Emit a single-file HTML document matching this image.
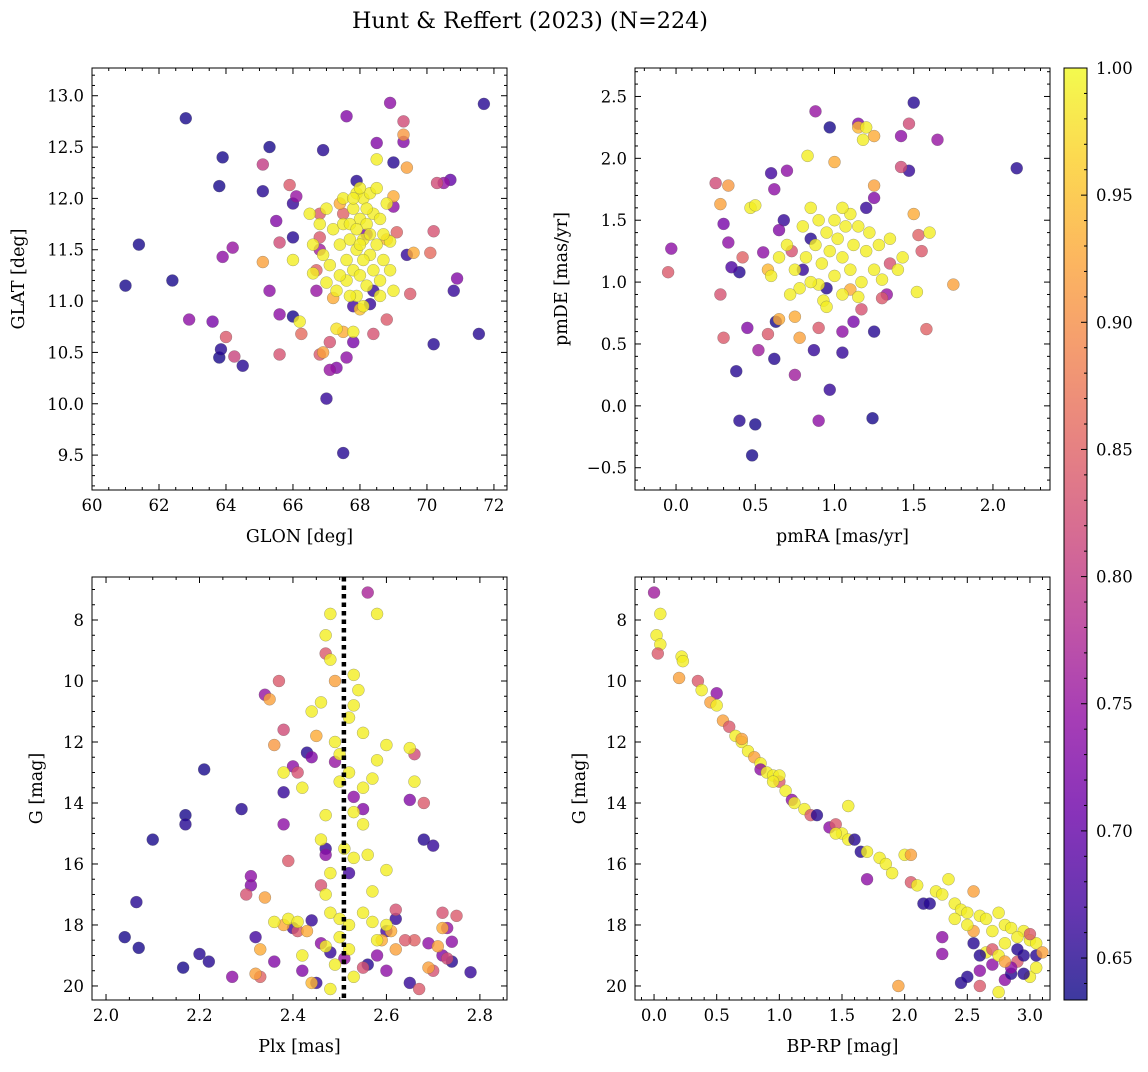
<!DOCTYPE html>
<html><head><meta charset="utf-8"><style>
body{margin:0;background:#fff;}
svg text{font-family:"DejaVu Serif","Liberation Serif",serif;fill:#000;}
</style></head><body>
<svg id="fig" width="1148" height="1067">
<text x="530" y="28" font-size="22" text-anchor="middle" textLength="356" lengthAdjust="spacingAndGlyphs">Hunt &amp; Reffert (2023) (N=224)</text>
</svg>
<script>
// ---- data: [x, y, membership probability] ----
const posData = [
[61.0,11.15,0.64],[61.4,11.55,0.64],[62.4,11.2,0.64],[62.8,12.78,0.64],[63.8,12.12,0.64],[63.9,12.4,0.64],[63.8,10.45,0.64],[63.85,10.53,0.65],[64.5,10.37,0.65],[65.3,12.5,0.64],[65.1,12.07,0.65],[66.0,11.62,0.65],[66.0,10.85,0.64],[66.0,11.95,0.66],[66.9,12.47,0.65],[67.0,10.05,0.66],[67.5,9.52,0.65],[67.9,12.17,0.65],[69.0,12.35,0.65],[70.2,10.58,0.65],[70.8,11.1,0.66],[71.7,12.92,0.65],[71.55,10.68,0.65],[70.7,12.18,0.7],[69.4,11.45,0.66],[68.3,10.97,0.66],[67.8,10.95,0.67],[68.4,11.1,0.66],
[62.9,10.82,0.74],[63.6,10.8,0.72],[64.2,11.52,0.75],[63.9,11.43,0.74],[65.5,11.78,0.73],[66.1,12.02,0.75],[67.6,12.8,0.73],[68.9,12.93,0.74],[69.3,12.55,0.73],[69.0,11.92,0.74],[67.3,10.35,0.73],[67.8,10.6,0.72],[67.6,10.45,0.74],[66.7,11.1,0.75],[65.6,10.87,0.74],[70.9,11.22,0.73],[70.5,12.15,0.75],[68.5,12.54,0.73],[65.3,11.1,0.74],[67.1,10.33,0.75],[68.2,11.65,0.72],[66.8,11.5,0.76],
[65.1,12.33,0.8],[64.25,10.46,0.81],[64.0,10.65,0.84],[65.6,11.57,0.82],[65.6,10.48,0.83],[65.9,12.13,0.84],[66.25,10.68,0.86],[66.8,10.48,0.84],[67.1,10.6,0.83],[66.7,11.3,0.85],[66.8,11.62,0.84],[69.3,12.75,0.82],[69.5,11.07,0.84],[70.2,11.68,0.83],[70.3,12.15,0.82],[70.1,11.47,0.86],[69.1,11.67,0.85],[68.8,10.82,0.84],[68.4,10.68,0.83],[67.5,11.85,0.85],[66.8,11.85,0.84],
[65.1,11.38,0.92],[69.3,12.62,0.91],[69.4,12.3,0.92],[69.6,11.47,0.93],[69.0,12.02,0.93],[68.8,11.6,0.94],[67.5,10.7,0.93],[66.9,10.5,0.92],[67.2,11.03,0.93],[68.0,10.92,0.95],[67.4,11.95,0.93],
[66.0,11.4,0.99],[66.2,10.8,0.99],[67.3,10.73,0.98],[66.6,11.27,0.99],[67.0,11.18,0.99],[68.5,12.38,0.99],[68.9,11.58,0.99],[66.5,11.85,0.99],[66.8,11.75,0.99],[67.0,11.9,0.99],[67.2,11.7,0.99],[67.4,11.55,0.99],[67.6,11.4,0.99],[67.8,11.9,0.99],[67.9,12.05,0.99],[68.1,12.0,0.99],[68.3,12.05,0.99],[68.0,11.8,0.99],[68.2,11.75,0.99],[68.4,11.85,0.99],[68.6,11.8,0.99],[68.8,11.95,0.99],[67.5,11.75,0.99],[67.7,11.6,0.99],[67.9,11.5,0.99],[68.1,11.6,0.99],[68.3,11.45,0.99],[68.5,11.55,0.99],[68.7,11.4,0.99],[67.6,11.2,0.99],[67.8,11.3,0.99],[68.0,11.25,0.99],[68.2,11.15,0.99],[68.4,11.3,0.99],[68.6,11.2,0.99],[67.1,11.35,0.99],[66.9,11.45,0.99],[67.3,11.1,0.99],[67.9,11.05,0.99],[68.1,10.95,0.99],[68.6,11.05,0.99],[68.9,11.3,0.99],[69.0,11.1,0.99],[68.7,11.65,0.99],[67.5,12.0,0.99],[68.5,12.1,0.99],[66.6,11.55,0.99],[67.8,10.7,0.99],
[67.7,11.75,0.99],[67.9,11.7,0.99],[68.1,11.4,0.99],[68.3,11.65,0.99],[67.7,11.05,0.99],[68.0,11.55,0.99],[67.4,11.25,0.99],[68.2,11.9,0.99],[67.8,12.0,0.99],[68.0,12.1,0.99]
];
const pmData = [
[0.48,-0.4,0.64],[0.4,-0.12,0.65],[0.5,-0.15,0.64],[0.97,0.13,0.66],[1.24,-0.1,0.64],[0.38,0.28,0.65],[0.62,0.38,0.65],[0.63,0.68,0.64],[0.4,1.08,0.65],[0.97,2.25,0.64],[1.5,2.45,0.65],[1.25,0.6,0.65],[1.05,0.43,0.66],[2.15,1.92,0.65],[0.87,0.45,0.66],[0.85,1.35,0.65],[0.8,1.1,0.66],[0.95,0.95,0.65],[1.2,1.6,0.66],[1.47,1.9,0.66],[0.6,1.88,0.67],[0.68,1.5,0.66],[0.35,1.12,0.68],
[-0.03,1.27,0.74],[0.3,1.47,0.72],[0.45,0.63,0.73],[0.62,1.75,0.74],[0.65,1.42,0.73],[0.9,-0.12,0.74],[0.88,2.38,0.75],[1.15,2.28,0.73],[1.42,2.18,0.74],[1.65,2.15,0.75],[1.05,0.6,0.74],[1.12,0.68,0.72],[1.33,0.9,0.75],[0.55,1.24,0.74],[0.75,0.25,0.76],[0.33,1.32,0.74],[1.25,1.68,0.73],[0.52,0.45,0.76],[0.7,1.9,0.74],
[-0.05,1.08,0.84],[0.25,1.8,0.82],[0.28,0.9,0.83],[0.3,0.55,0.84],[0.42,1.2,0.85],[0.58,0.58,0.84],[0.73,1.25,0.83],[0.9,0.63,0.84],[1.17,0.78,0.83],[1.42,1.93,0.82],[1.58,0.62,0.85],[1.47,2.28,0.82],[1.53,1.38,0.85],[1.3,0.87,0.84],[1.35,1.15,0.83],[1.55,1.25,0.84],
[0.28,1.63,0.92],[0.33,1.78,0.91],[0.65,0.7,0.93],[0.78,0.55,0.92],[1.0,1.97,0.93],[1.25,1.78,0.92],[1.25,2.18,0.93],[1.75,0.98,0.92],[1.5,1.55,0.93],[1.15,2.25,0.94],[0.75,0.72,0.93],[1.1,0.94,0.93],[0.58,1.1,0.94],
[0.83,2.02,0.99],[0.47,1.6,0.99],[0.5,1.62,0.99],[1.52,0.92,0.99],[1.6,1.4,0.99],[1.43,1.2,0.99],[0.9,0.98,0.99],[1.2,2.25,0.99],[1.18,2.15,0.99],[0.7,1.3,0.99],[0.75,1.1,0.99],[0.8,1.45,0.99],[0.82,1.2,0.99],[0.85,1.0,0.99],[0.88,1.3,0.99],[0.9,1.5,0.99],[0.92,1.15,0.99],[0.95,1.4,0.99],[0.97,1.25,0.99],[1.0,1.05,0.99],[1.0,1.5,0.99],[1.02,1.35,0.99],[1.05,1.2,0.99],[1.07,1.45,0.99],[1.1,1.55,0.99],[1.1,1.1,0.99],[1.12,1.3,0.99],[1.15,1.45,0.99],[1.17,1.0,0.99],[1.2,1.25,0.99],[1.22,1.4,0.99],[1.25,1.1,0.99],[1.28,1.3,0.99],[0.78,0.95,0.99],[0.93,0.85,0.99],[1.05,0.9,0.99],[0.65,1.2,0.99],[0.6,1.05,0.99],[1.35,1.35,0.99],[1.3,1.02,0.99],[0.85,1.6,0.99],[1.05,1.6,0.99],[0.95,0.8,0.99],[1.15,0.88,0.99],[0.72,0.9,0.99],[1.4,1.1,0.99]
];
const plxData = [
[2.04,18.4,0.64],[2.07,18.75,0.64],[2.065,17.25,0.65],[2.1,15.2,0.64],[2.17,14.4,0.64],[2.17,14.7,0.65],[2.165,19.4,0.64],[2.2,18.95,0.65],[2.21,12.9,0.64],[2.22,19.2,0.65],[2.29,14.2,0.65],[2.38,13.65,0.66],[2.43,12.35,0.65],[2.44,17.85,0.66],[2.47,15.5,0.66],[2.56,19.3,0.65],[2.65,19.9,0.66],[2.68,15.2,0.65],[2.7,15.4,0.66],[2.74,19.2,0.65],[2.78,19.55,0.66],[2.62,17.8,0.66],[2.6,18.2,0.67],[2.45,19.9,0.66],[2.48,18.9,0.66],[2.4,18.1,0.67],[2.32,18.4,0.67],[2.52,16.3,0.67],
[2.27,19.7,0.74],[2.31,16.7,0.73],[2.31,16.4,0.74],[2.34,10.45,0.75],[2.36,19.2,0.73],[2.38,14.7,0.74],[2.4,12.8,0.74],[2.44,12.5,0.73],[2.49,12.65,0.75],[2.53,13.8,0.74],[2.65,13.9,0.73],[2.69,18.6,0.74],[2.72,19.0,0.73],[2.73,18.1,0.75],[2.74,18.55,0.74],[2.42,19.5,0.73],[2.46,18.6,0.74],[2.51,19.1,0.75],[2.58,19.0,0.74],[2.56,7.1,0.77],[2.47,15.7,0.74],[2.55,14.2,0.73],[2.6,19.5,0.74],
[2.3,17.0,0.83],[2.38,11.6,0.82],[2.37,10.0,0.84],[2.41,13.0,0.83],[2.39,15.9,0.84],[2.46,16.7,0.83],[2.47,9.1,0.84],[2.62,17.5,0.83],[2.66,12.4,0.82],[2.68,14.0,0.84],[2.72,17.6,0.83],[2.75,17.7,0.84],[2.7,19.5,0.83],[2.67,20.1,0.84],[2.66,18.5,0.85],[2.64,18.5,0.84],[2.73,19.1,0.82],[2.55,19.4,0.83],[2.41,18.2,0.84],[2.33,19.7,0.85],
[2.35,10.6,0.92],[2.36,12.1,0.91],[2.34,17.1,0.92],[2.33,18.8,0.93],[2.32,19.6,0.92],[2.45,11.8,0.93],[2.49,10.0,0.92],[2.59,18.5,0.93],[2.62,18.8,0.92],[2.72,18.1,0.93],[2.69,19.4,0.92],[2.61,18.2,0.93],[2.44,19.9,0.94],[2.43,18.2,0.93],[2.71,18.7,0.92],[2.38,18.0,0.93],
[2.48,7.8,0.99],[2.47,8.5,0.99],[2.58,7.8,0.99],[2.48,9.3,0.99],[2.53,9.8,0.99],[2.54,10.3,0.99],[2.53,10.8,0.99],[2.46,10.7,0.99],[2.52,11.2,0.99],[2.55,11.7,0.99],[2.6,12.1,0.99],[2.65,12.2,0.99],[2.66,13.3,0.99],[2.58,12.6,0.99],[2.49,12.0,0.99],[2.5,12.4,0.99],[2.44,11.0,0.99],[2.38,13.0,0.99],[2.42,13.5,0.99],[2.5,13.3,0.99],[2.52,13.0,0.99],[2.55,13.5,0.99],[2.57,13.2,0.99],[2.47,14.4,0.99],[2.53,14.3,0.99],[2.55,14.7,0.99],[2.46,15.2,0.99],[2.51,15.5,0.99],[2.53,15.8,0.99],[2.56,15.7,0.99],[2.6,16.2,0.99],[2.57,16.9,0.99],[2.48,16.3,0.99],[2.47,17.0,0.99],[2.39,17.8,0.99],[2.41,17.9,0.99],[2.48,17.6,0.99],[2.5,17.8,0.99],[2.52,18.0,0.99],[2.55,17.6,0.99],[2.57,17.9,0.99],[2.6,18.0,0.99],[2.5,18.4,0.99],[2.47,18.7,0.99],[2.52,18.8,0.99],[2.49,19.3,0.99],[2.48,20.1,0.99],[2.58,18.5,0.99],[2.53,19.7,0.99],[2.36,17.9,0.99],[2.42,19.0,0.99]
];
const cmdData = [
[0.0,7.1,0.76],[0.02,8.5,0.99],[0.05,8.8,0.99],[0.05,7.8,0.99],[0.03,9.1,0.84],[0.2,9.9,0.92],[0.22,9.2,0.99],[0.23,9.35,0.99],[0.35,10.0,0.84],[0.38,10.3,0.99],[0.5,10.4,0.74],[0.45,10.7,0.92],[0.5,10.8,0.99],[0.55,11.3,0.92],[0.6,11.5,0.84],[0.65,11.8,0.99],[0.7,12.0,0.99],[0.75,12.3,0.99],[0.8,12.5,0.92],[0.85,12.7,0.99],[0.85,12.9,0.74],[0.9,13.0,0.99],[0.95,13.1,0.99],[1.0,13.3,0.84],[1.0,13.1,0.99],[1.05,13.6,0.99],[1.1,13.9,0.74],[1.12,14.0,0.99],[1.2,14.2,0.99],[1.25,14.4,0.84],[1.3,14.4,0.65],[1.4,14.8,0.74],[1.45,14.7,0.84],[1.5,15.0,0.99],[1.55,14.1,0.99],[1.55,15.2,0.99],[1.6,15.2,0.65],[1.65,15.6,0.65],[1.7,15.6,0.99],[1.7,16.5,0.74],[1.8,15.8,0.99],[1.85,16.0,0.99],[1.9,16.3,0.99],[2.0,15.7,0.99],[2.05,15.7,0.92],[2.05,16.6,0.84],[2.1,16.7,0.99],[2.15,17.3,0.65],[2.2,17.3,0.65],[2.25,16.9,0.99],[2.3,17.0,0.99],[2.35,16.5,0.99],[2.4,17.3,0.99],[2.45,17.5,0.99],[2.5,17.6,0.99],[2.55,16.9,0.92],[2.6,17.7,0.99],[2.65,17.8,0.99],[2.75,17.6,0.99],[2.8,18.0,0.99],[2.85,18.1,0.99],[2.95,18.2,0.99],[3.0,18.5,0.99],[3.05,18.6,0.99],[2.3,18.4,0.74],[2.3,18.95,0.74],[2.45,19.9,0.65],[2.5,19.7,0.65],[2.55,18.6,0.65],[2.6,20.0,0.84],[2.6,19.5,0.74],[2.7,19.3,0.74],[2.75,20.2,0.99],[2.8,19.8,0.74],[2.85,19.6,0.65],[2.9,19.2,0.84],[2.95,19.0,0.65],[3.05,19.0,0.65],[3.1,18.9,0.92],[3.0,19.7,0.99],[1.95,20.0,0.92],[2.65,18.9,0.99],[2.7,18.8,0.84],[2.8,18.6,0.99],[2.9,18.8,0.65],[2.85,19.4,0.74],[2.95,19.6,0.65],[3.0,18.3,0.84],[2.7,18.2,0.99],[2.55,18.2,0.92],[2.6,19.0,0.65],[2.75,19.0,0.99],[2.9,18.4,0.99],[3.05,19.4,0.99],[2.8,19.2,0.92],[2.5,18.0,0.99],[1.45,15.0,0.99],[0.7,11.9,0.92],[0.95,13.3,0.99],[2.4,17.8,0.99]
];
const cbTicks = [0.65,0.70,0.75,0.80,0.85,0.90,0.95,1.00];

const NS="http://www.w3.org/2000/svg";
const svg=document.getElementById('fig');
function mk(tag,attrs,parent){const e=document.createElementNS(NS,tag);for(const k in attrs)e.setAttribute(k,attrs[k]);(parent||svg).appendChild(e);return e;}
const CMIN=0.6335,CMAX=1.0;
const stops=["#0d0887","#41049d","#6a00a8","#8f0da4","#b12a90","#cc4778","#e16462","#f2844b","#fca636","#fcce25","#f0f921"];
function hex(h){return[parseInt(h.slice(1,3),16),parseInt(h.slice(3,5),16),parseInt(h.slice(5,7),16)];}
function cmap(v){let t=(v-CMIN)/(CMAX-CMIN);t=Math.max(0,Math.min(1,t));const p=t*10,i=Math.min(9,Math.floor(p)),f=p-i;const a=hex(stops[i]),b=hex(stops[i+1]);return `rgb(${a.map((x,k)=>Math.round(x+(b[k]-x)*f)).join(',')})`;}
const TF=16.5, LF=17.5;
function panel(name,box,xr,yr,xmaj,xmin,ymaj,ymin,xdec,ydec,xlab,ylab,data,invert){
  const [L,T,R,B]=box;
  const sx=v=>L+(v-xr[0])/(xr[1]-xr[0])*(R-L);
  const sy=invert?(v=>T+(v-yr[0])/(yr[1]-yr[0])*(B-T)):(v=>B-(v-yr[0])/(yr[1]-yr[0])*(B-T));
  const g=mk('g',{});
  
  
  const clip=mk('clipPath',{id:'c'+name},g);mk('rect',{x:L,y:T,width:R-L,height:B-T},clip);
  const pg=mk('g',{'clip-path':`url(#c${name})`},g);
  data.forEach(d=>{const c=mk('circle',{cx:sx(d[0]),cy:sy(d[1]),r:6,fill:cmap(d[2]),'fill-opacity':0.8,stroke:'#555','stroke-opacity':0.5,'stroke-width':0.5},pg);
    
    });
  mk('rect',{x:L,y:T,width:R-L,height:B-T,fill:'none',stroke:'#000','stroke-width':1},g);
  const eps=1e-6;
  for(let v=Math.ceil(xr[0]/xmin-eps)*xmin;v<=xr[1]+eps;v+=xmin){const x=sx(v);const isM=Math.abs(v/xmaj-Math.round(v/xmaj))<1e-4;const len=isM?6:3;
    mk('line',{x1:x,x2:x,y1:B,y2:B-len,stroke:'#000'},g);mk('line',{x1:x,x2:x,y1:T,y2:T+len,stroke:'#000'},g);
    if(isM){const t=mk('text',{x:x,y:B+21,'font-size':TF,'text-anchor':'middle'},g);t.textContent=(Math.abs(v)<eps?0:v).toFixed(xdec);
      
      }}
  for(let v=Math.ceil(yr[0]/ymin-eps)*ymin;v<=yr[1]+eps;v+=ymin){const y=sy(v);const isM=Math.abs(v/ymaj-Math.round(v/ymaj))<1e-4;const len=isM?6:3;
    mk('line',{x1:L,x2:L+len,y1:y,y2:y,stroke:'#000'},g);mk('line',{x1:R,x2:R-len,y1:y,y2:y,stroke:'#000'},g);
    if(isM){let s=(Math.abs(v)<eps?0:v).toFixed(ydec);if(v<-eps)s='\u2212'+s.slice(1);const t=mk('text',{x:L-8,y:y+6,'font-size':TF,'text-anchor':'end'},g);t.textContent=s;
      
      }}
  const xl=mk('text',{x:(L+R)/2,y:B+52,'font-size':LF,'text-anchor':'middle'},g);xl.textContent=xlab;
  
  
  const yx=L-68+(name==='cmd-panel'||name==='plx-panel'?18:0);
  const yl=mk('text',{x:0,y:0,'font-size':LF,'text-anchor':'middle',transform:`translate(${yx},${(T+B)/2}) rotate(-90)`},g);yl.textContent=ylab;
  
  
  return sx;
}
panel('position-panel',[92,68,507,490],[60.0,72.39],[9.16,13.27],2,0.5,0.5,0.1,0,1,'GLON [deg]','GLAT [deg]',posData,false);
panel('proper-motion-panel',[635,68,1050,490],[-0.259,2.36],[-0.68,2.73],0.5,0.1,0.5,0.1,1,1,'pmRA [mas/yr]','pmDE [mas/yr]',pmData,false);
const sxp=panel('plx-panel',[92,577,507,1000],[1.97,2.858],[6.59,20.46],0.2,0.05,2,0.5,1,0,'Plx [mas]','G [mag]',plxData,true);
panel('cmd-panel',[635,577,1050,1000],[-0.152,3.16],[6.59,20.46],0.5,0.1,2,0.5,1,0,'BP-RP [mag]','G [mag]',cmdData,true);
const ln=mk('line',{x1:sxp(2.509),x2:sxp(2.509),y1:577,y2:1000,stroke:'#000','stroke-width':4.5,'stroke-dasharray':'4.5,4'});



// colorbar
const cb=mk('g',{});


const CL=1064,CR=1087,CT=68,CB=1000;
const gr=mk('linearGradient',{id:'cbg',x1:0,y1:1,x2:0,y2:0},cb);
stops.forEach((s,i)=>mk('stop',{offset:i/10,'stop-color':s},gr));
mk('rect',{x:CL,y:CT,width:CR-CL,height:CB-CT,fill:'url(#cbg)','fill-opacity':0.8},cb);
mk('rect',{x:CL,y:CT,width:CR-CL,height:CB-CT,fill:'none',stroke:'#000'},cb);
const cy=v=>CB-(v-CMIN)/(CMAX-CMIN)*(CB-CT);
for(let v=0.64;v<=1.0001;v+=0.01){const y=cy(v);const isM=cbTicks.some(t=>Math.abs(t-v)<1e-4);mk('line',{x1:CR,x2:CR-(isM?6:3),y1:y,y2:y,stroke:'#000'},cb);}
cbTicks.forEach(v=>{const t=mk('text',{x:CR+9,y:cy(v)+6,'font-size':TF},cb);t.textContent=v.toFixed(2);
  
  });
</script>
</body></html>
